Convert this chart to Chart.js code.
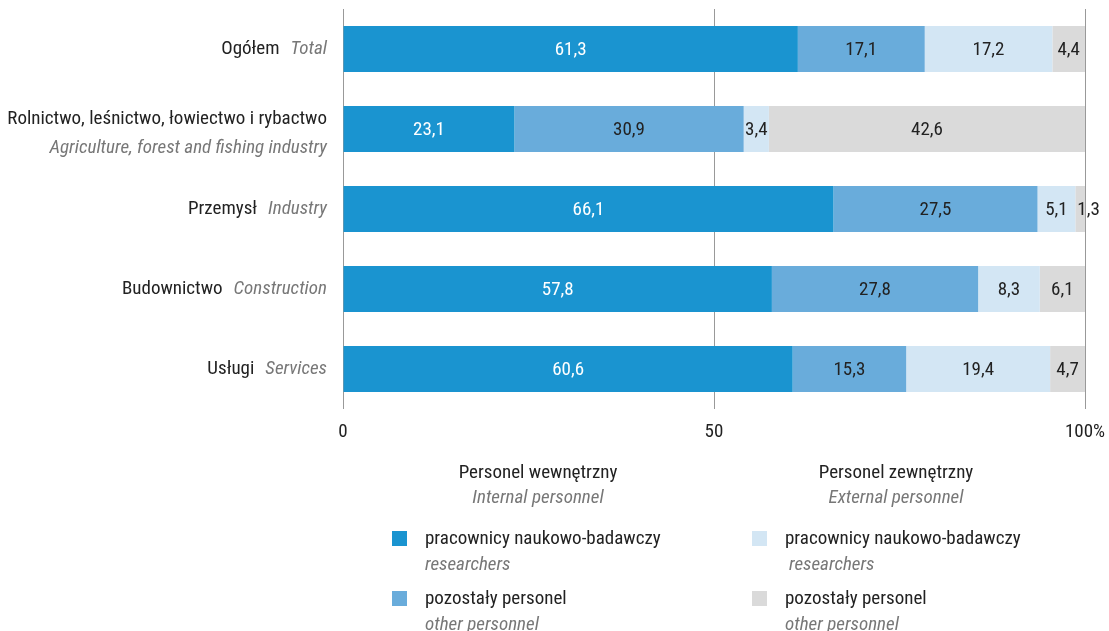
<!DOCTYPE html>
<html lang="pl">
<head>
<meta charset="UTF-8">
<title>Personel B+R</title>
<script src="https://cdn.jsdelivr.net/npm/chart.js"></script>
<style>
    body { margin: 0; background: #fff; font-family: Roboto, sans-serif; font-stretch: condensed; }
    .wrap { position: relative; width: 1109px; height: 631px; }
    .legend { position: absolute; left: 0; top: 0; width: 1109px; height: 631px; pointer-events: none; color: #222; font-size: 19px; line-height: 22px; }
    .legend div { position: absolute; white-space: nowrap; }
    .en { color: #777; font-style: italic; }
    .head { transform: translateX(-50%); text-align: center; }
    .sw { width: 15px; height: 15px; }
</style>
</head>
<body>
<div class="wrap">
    <canvas id="chart" width="1109" height="631"></canvas>
    <div class="legend" id="legend"></div>
</div>
<script>
// categories: Polish and English names
const categoriesPl = ['Ogółem', 'Rolnictwo, leśnictwo, łowiectwo i rybactwo', 'Przemysł', 'Budownictwo', 'Usługi'];
const categoriesEn = ['Total', 'Agriculture, forest and fishing industry', 'Industry', 'Construction', 'Services'];

// shares in %
const internalResearchers = [61.3, 23.1, 66.1, 57.8, 60.6];
const internalOther = [17.1, 30.9, 27.5, 27.8, 15.3];
const externalResearchers = [17.2, 3.4, 5.1, 8.3, 19.4];
const externalOther = [4.4, 42.6, 1.3, 6.1, 4.7];

const xTicks = [0, 50, 100];

const seriesNames = [
    ['pracownicy naukowo-badawczy', 'researchers'],
    ['pozostały personel', 'other personnel'],
    ['pracownicy naukowo-badawczy', 'researchers'],
    ['pozostały personel', 'other personnel']
];
const colors = ['#1a94d0', '#69acdb', '#d3e6f4', '#dadada'];

const FONT = 'Roboto';

// category labels left of the bars (Polish normal, English italic grey)
const categoryLabels = {
    id: 'categoryLabels',
    afterDraw(chart) {
        const ctx = chart.ctx;
        const y = chart.scales.y;
        const right = chart.chartArea.left - 16;
        ctx.save();
        ctx.textBaseline = 'middle';
        ctx.textAlign = 'right';
        categoriesPl.forEach((pl, i) => {
            const cy = y.getPixelForValue(i);
            const en = categoriesEn[i];
            if (pl.length > 20) {
                ctx.font = 'condensed 19px ' + FONT;
                ctx.fillStyle = '#222';
                ctx.fillText(pl, right, cy - 10);
                ctx.font = 'italic condensed 19px ' + FONT;
                ctx.fillStyle = '#777';
                ctx.fillText(en, right, cy + 19);
            } else {
                ctx.font = 'italic condensed 19px ' + FONT;
                ctx.fillStyle = '#777';
                ctx.fillText(en, right, cy);
                const w = ctx.measureText(en).width;
                ctx.font = 'condensed 19px ' + FONT;
                ctx.fillStyle = '#222';
                ctx.fillText(pl, right - w - 11, cy);
            }
        });
        ctx.restore();
    }
};

// value labels inside bar segments
const valueLabels = {
    id: 'valueLabels',
    afterDatasetsDraw(chart) {
        const ctx = chart.ctx;
        ctx.save();
        ctx.font = 'condensed 19px ' + FONT;
        ctx.textBaseline = 'middle';
        chart.data.datasets.forEach((ds, di) => {
            const meta = chart.getDatasetMeta(di);
            meta.data.forEach((bar, i) => {
                const txt = ds.data[i].toFixed(1).replace('.', ',');
                const w = ctx.measureText(txt).width;
                const segW = bar.x - bar.base;
                ctx.fillStyle = di === 0 ? '#fff' : '#222';
                if (w > segW) {
                    ctx.textAlign = 'left';
                    ctx.fillText(txt, bar.base + 2, bar.y + 1);
                } else {
                    ctx.textAlign = 'center';
                    ctx.fillText(txt, (bar.x + bar.base) / 2, bar.y + 1);
                }
            });
        });
        ctx.restore();
    }
};

const ctx = document.getElementById('chart').getContext('2d');
new Chart(ctx, {
    type: 'bar',
    data: {
        labels: categoriesPl,
        datasets: [internalResearchers, internalOther, externalResearchers, externalOther].map((d, i) => ({
            label: seriesNames[i][0],
            data: d,
            backgroundColor: colors[i],
            borderWidth: 0,
            barPercentage: 0.575,
            categoryPercentage: 1
        }))
    },
    options: {
        indexAxis: 'y',
        responsive: false,
        animation: false,
        layout: { padding: { left: 343, right: 24, top: 9, bottom: 182 } },
        plugins: { legend: { display: false }, tooltip: { enabled: false } },
        scales: {
            x: {
                stacked: true,
                min: 0,
                max: 100,
                afterBuildTicks: (s) => { s.ticks = xTicks.map(v => ({ value: v })); },
                afterFit: (s) => { s.paddingLeft = 0; s.paddingRight = 0; s.height = 40; },
                ticks: {
                    color: '#222',
                    font: { size: 19, family: FONT, weight: 'condensed' },
                    padding: 12,
                    maxRotation: 0,
                    callback: (v) => v === 100 ? '100%' : v
                },
                grid: { color: '#999', lineWidth: 1, drawTicks: false },
                border: { display: false }
            },
            y: { stacked: true, display: false }
        }
    },
    plugins: [categoryLabels, valueLabels]
});

// legend (two groups)
const legend = document.getElementById('legend');
const groups = [
    { x: 538, pl: 'Personel wewnętrzny', en: 'Internal personnel', sx: 392, tx: 425, items: [0, 1] },
    { x: 896, pl: 'Personel zewnętrzny', en: 'External personnel', sx: 752, tx: 785, items: [2, 3] }
];
let html = '';
groups.forEach(g => {
    html += `<div class="head" style="left:${g.x}px;top:461px">${g.pl}</div>`;
    html += `<div class="head en" style="left:${g.x}px;top:486px">${g.en}</div>`;
    g.items.forEach((k, j) => {
        const top = 527 + j * 60;
        html += `<div class="sw" style="left:${g.sx}px;top:${top + 4}px;background:${colors[k]}"></div>`;
        html += `<div style="left:${g.tx}px;top:${top}px">${seriesNames[k][0]}</div>`;
        html += `<div class="en" style="left:${g.tx + (k === 2 ? 4 : 0)}px;top:${top + 26}px">${seriesNames[k][1]}</div>`;
    });
});
legend.innerHTML = html;
</script>
</body>
</html>
